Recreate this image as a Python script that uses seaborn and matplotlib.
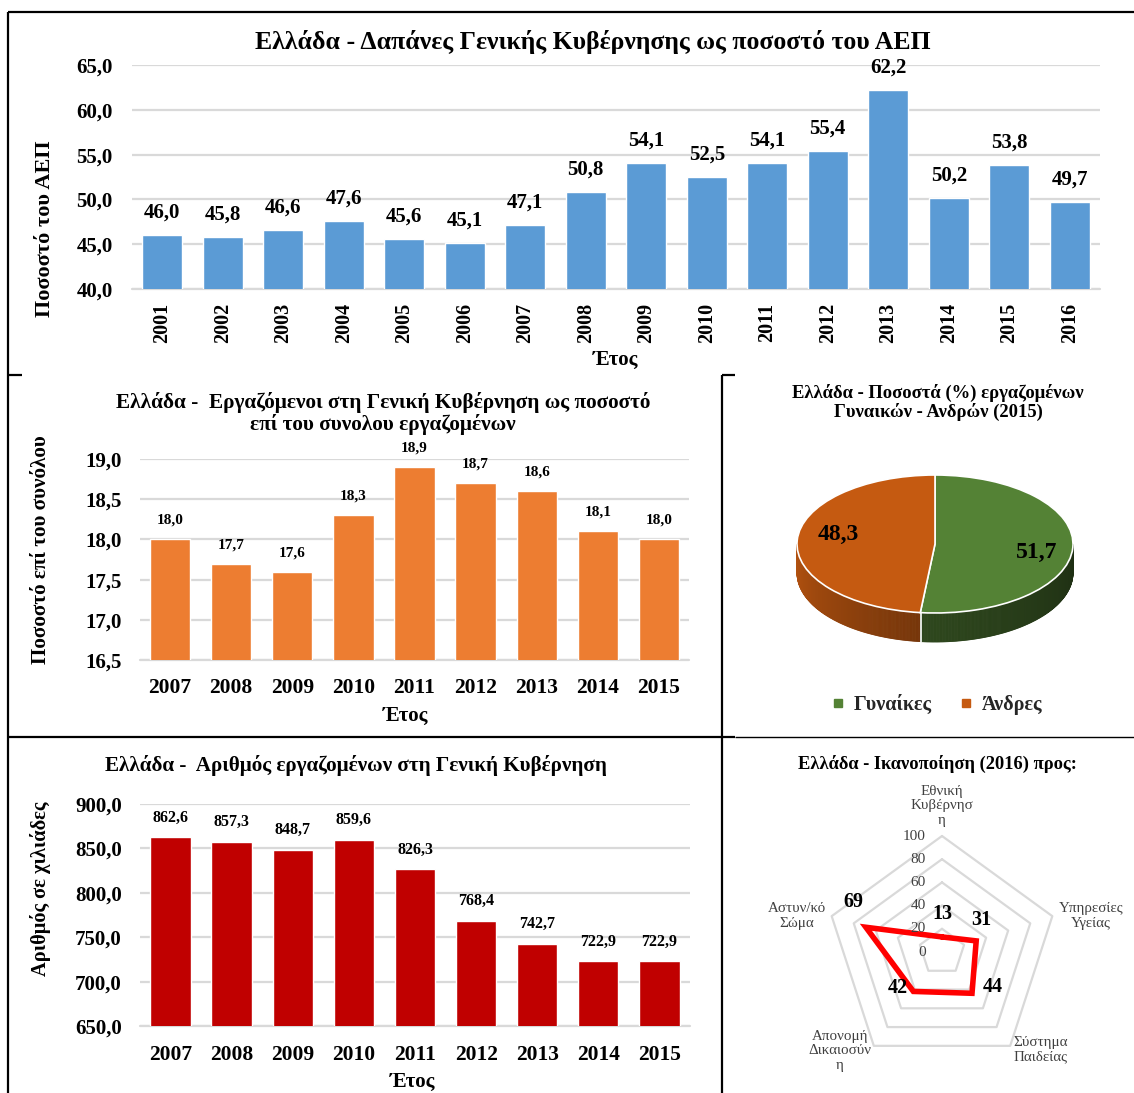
import numpy as np
import pandas as pd
import matplotlib
matplotlib.use("Agg")
import matplotlib.pyplot as plt
from matplotlib.lines import Line2D
from matplotlib.ticker import FuncFormatter, MultipleLocator
import seaborn as sns

# ---------------- data ----------------
years_exp = ["2001", "2002", "2003", "2004", "2005", "2006", "2007", "2008",
             "2009", "2010", "2011", "2012", "2013", "2014", "2015", "2016"]
exp_gdp = [46.0, 45.8, 46.6, 47.6, 45.6, 45.1, 47.1, 50.8,
           54.1, 52.5, 54.1, 55.4, 62.2, 50.2, 53.8, 49.7]

years_emp = ["2007", "2008", "2009", "2010", "2011", "2012", "2013", "2014", "2015"]
emp_share = [18.0, 17.7, 17.6, 18.3, 18.9, 18.7, 18.6, 18.1, 18.0]
emp_count = [862.6, 857.3, 848.7, 859.6, 826.3, 768.4, 742.7, 722.9, 722.9]

gender_labels = ["Γυναίκες", "Άνδρες"]
gender_share = [51.7, 48.3]

sat_labels = ["Εθνική\nΚυβέρνησ\nη", "Υπηρεσίες\nΥγείας", "Σύστημα\nΠαιδείας",
              "Απονομή\nΔικαιοσύν\nη", "Αστυν/κό\nΣώμα"]
sat_values = [13, 31, 44, 42, 69]
ring_levels = [0, 20, 40, 60, 80, 100]

# ---------------- style ----------------
sns.set_theme(style="white")
plt.rcParams["font.family"] = ["Liberation Serif", "DejaVu Serif"]
plt.rcParams["axes.unicode_minus"] = False

W, H = 1134, 1093
fig = plt.figure(figsize=(W / 100, H / 100), dpi=100)
fig.patch.set_facecolor("white")


def px(x):
    return x / W


def py(y):
    return 1 - y / H


def rect(x0, y0, x1, y1):
    # pixel box (top-left origin) -> figure fraction rect
    return [px(x0), py(y1), (x1 - x0) / W, (y1 - y0) / H]


def gr(v, nd=1):
    return f"{v:.{nd}f}".replace(".", ",")


GRID = "#D9D9D9"


def bar_panel(ax, cats, vals, color, ylim, step, lab_size, lab_pad):
    df = pd.DataFrame({"cat": cats, "val": vals})
    sns.barplot(data=df, x="cat", y="val", color=color, saturation=1,
                width=0.66, errorbar=None, ax=ax, zorder=2)
    ax.set_ylim(*ylim)
    ax.set_xlim(-0.5, len(cats) - 0.5)
    ax.yaxis.set_major_locator(MultipleLocator(step))
    ax.yaxis.set_major_formatter(FuncFormatter(lambda v, p: gr(v)))
    ax.yaxis.grid(True, color=GRID, linewidth=1.6, zorder=0)
    ax.xaxis.grid(False)
    ax.set_axisbelow(True)
    ax.axhline(ylim[0], color=GRID, linewidth=1.6, clip_on=False, zorder=1)
    for s in ax.spines.values():
        s.set_visible(False)
    ax.bar_label(ax.containers[0], labels=[gr(v) for v in vals],
                 padding=lab_pad, fontsize=lab_size, fontweight="bold", color="black")
    ax.set_xlabel("")
    ax.set_ylabel("")
    for t in ax.get_xticklabels() + ax.get_yticklabels():
        t.set_fontweight("bold")
        t.set_color("black")


# ---------------- top: expenditure as % of GDP ----------------
ax1 = fig.add_axes(rect(132, 65, 1100, 289))
bar_panel(ax1, years_exp, exp_gdp, "#5B9BD5", (40, 65), 5, 15, 9)
ax1.tick_params(axis="x", rotation=90, length=0, pad=10, labelsize=14.5)
ax1.tick_params(axis="y", length=0, pad=14, labelsize=15)
ax1.set_ylabel("Ποσοστό του ΑΕΠ", fontsize=16, fontweight="bold", color="black")
ax1.yaxis.set_label_coords(-0.0795, 0.27)
ax1.set_xlabel("Έτος", fontsize=15, fontweight="bold", color="black")
ax1.xaxis.set_label_coords(0.5, -0.27)
fig.text(px(593), py(42), "Ελλάδα - Δαπάνες Γενικής Κυβέρνησης ως ποσοστό του ΑΕΠ",
         ha="center", va="center", fontsize=18.5, fontweight="bold", color="black")

# ---------------- middle left: employees share ----------------
ax2 = fig.add_axes(rect(139.5, 459, 689.5, 660))
bar_panel(ax2, years_emp, emp_share, "#ED7D31", (16.5, 19.0), 0.5, 11, 9)
ax2.tick_params(axis="x", length=0, pad=13, labelsize=15.5)
ax2.tick_params(axis="y", length=0, pad=12.5, labelsize=15)
ax2.set_ylabel("Ποσοστό επί του συνόλου", fontsize=15.2, fontweight="bold", color="black")
ax2.yaxis.set_label_coords(-0.161, 0.55)
ax2.set_xlabel("Έτος", fontsize=15, fontweight="bold", color="black")
ax2.xaxis.set_label_coords(0.483, -0.229)
fig.text(px(383), py(413.5),
         "Ελλάδα -  Εργαζόμενοι στη Γενική Κυβέρνηση ως ποσοστό\nεπί του συνολου εργαζομένων",
         ha="center", va="center", fontsize=15.3, fontweight="bold", color="black",
         linespacing=1.05)

# ---------------- bottom left: employees count ----------------
ax4 = fig.add_axes(rect(140, 804, 690, 1026))
bar_panel(ax4, years_emp, emp_count, "#C00000", (650, 900), 50, 11.5, 8.5)
ax4.tick_params(axis="x", length=0, pad=13.5, labelsize=15.5)
ax4.tick_params(axis="y", length=0, pad=13, labelsize=15)
ax4.set_ylabel("Αριθμός σε χιλιάδες", fontsize=14.7, fontweight="bold", color="black")
ax4.yaxis.set_label_coords(-0.162, 0.62)
ax4.set_xlabel("Έτος", fontsize=15, fontweight="bold", color="black")
ax4.xaxis.set_label_coords(0.496, -0.207)
fig.text(px(356), py(765), "Ελλάδα -  Αριθμός εργαζομένων στη Γενική Κυβέρνηση",
         ha="center", va="center", fontsize=15.2, fontweight="bold", color="black")

# ---------------- middle right: 3D-look pie ----------------
pie_colors = ["#548235", "#C55A11"]
side_shade = [(0.55, 0.36), (0.92, 0.60)]  # front-rim darkening per slice
axp = fig.add_axes(rect(755.6, 454.3, 1114.4, 682))
wedges, _, autotexts = axp.pie(
    gender_share, colors=pie_colors, startangle=90, counterclock=False,
    wedgeprops=dict(edgecolor="white", linewidth=1.2),
    autopct=lambda p: gr(p), pctdistance=0.74,
    textprops=dict(fontsize=17, fontweight="bold", color="black"))
axp.set_aspect("auto")
axp.set_xlim(-1.3, 1.3)
axp.set_ylim(-2.0, 1.3)
axp.axis("off")
depth = 0.42
rim = np.linspace(180, 360, 361)


def slice_of(angle):
    for i, w in enumerate(wedges):
        span = (w.theta2 - w.theta1) % 360 or 360
        if (angle - w.theta1) % 360 <= span:
            return i
    return 0


# split rim into per-slice runs, then shade each run from light to dark
runs = []
for a0, a1 in zip(rim[:-1], rim[1:]):
    i = slice_of(0.5 * (a0 + a1))
    if runs and runs[-1][0] == i:
        runs[-1][1].append(a1)
    else:
        runs.append([i, [a0, a1]])
for i, angs in runs:
    angs = np.array(angs)
    base = np.array(matplotlib.colors.to_rgb(pie_colors[i]))
    f0, f1 = side_shade[i]
    for k in range(len(angs) - 1):
        t0, t1 = np.radians(angs[k]), np.radians(angs[k + 1])
        frac = (k + 0.5) / (len(angs) - 1)
        col = np.clip(base * (f0 + (f1 - f0) * frac), 0, 1)
        xs = [np.cos(t0), np.cos(t1), np.cos(t1), np.cos(t0)]
        ys = [np.sin(t0), np.sin(t1), np.sin(t1) - depth, np.sin(t0) - depth]
        axp.fill(xs, ys, color=col, lw=0.6, ec=col, zorder=0.5)
# white seam where the slices meet on the front rim
for i, angs in runs[1:]:
    t = np.radians(angs[0])
    axp.plot([np.cos(t), np.cos(t)], [np.sin(t), np.sin(t) - depth],
             color="white", lw=1.2, zorder=0.6)
autotexts[0].set_position((autotexts[0].get_position()[0] + 0.0,
                           autotexts[0].get_position()[1] - 0.08))
autotexts[1].set_position((autotexts[1].get_position()[0] + 0.04,
                           autotexts[1].get_position()[1] + 0.1))
handles = [Line2D([], [], marker="s", linestyle="", color=c, markersize=5.5) for c in pie_colors]
axp.legend(handles, gender_labels, loc="center", bbox_to_anchor=(0.5, -0.10), ncol=2,
           frameon=False, prop=dict(size=14.5, weight="bold"), handletextpad=0.3,
           columnspacing=1.2, handlelength=1.0)
fig.text(px(938), py(402.5), "Ελλάδα - Ποσοστά (%) εργαζομένων\nΓυναικών - Ανδρών (2015)",
         ha="center", va="center", fontsize=13.4, fontweight="bold", color="black",
         linespacing=1.0)

# ---------------- bottom right: radar ----------------
axr = fig.add_axes(rect(826, 836, 1058, 1068))
axr.set_xlim(-100, 100)
axr.set_ylim(-100, 100)
axr.set_aspect("equal")
axr.axis("off")
n = len(sat_values)
theta = 2 * np.pi * np.arange(n) / n
tc = np.append(theta, theta[0])
for lev in ring_levels[1:]:
    axr.plot(lev * np.sin(tc), lev * np.cos(tc), color=GRID, lw=1.6, zorder=1, clip_on=False)
vals_c = np.append(sat_values, sat_values[0])
axr.plot(vals_c * np.sin(tc), vals_c * np.cos(tc), color="#FF0000", lw=4,
         solid_joinstyle="miter", zorder=3, clip_on=False)
for lev in ring_levels:
    axr.annotate(str(lev), xy=(0, lev), xytext=(-16, 0), textcoords="offset pixels",
                 ha="right", va="center", fontsize=11, color="#404040",
                 annotation_clip=False, zorder=4)
val_offsets = [(0, 23), (5, 21), (21, 6), (-16, 3), (-13, 25)]
for v, t, off in zip(sat_values, theta, val_offsets):
    axr.annotate(str(v), xy=(v * np.sin(t), v * np.cos(t)), xytext=off,
                 textcoords="offset pixels", ha="center", va="center", fontsize=14.5,
                 fontweight="bold", color="black", annotation_clip=False, zorder=5)
lab_place = [((0, 9), "center", "bottom"), ((6, 0), "left", "center"),
             ((3, -4), "left", "center"), ((-34, -5), "center", "center"),
             ((-6, 0), "right", "center")]
for lab, t, (off, ha, va) in zip(sat_labels, theta, lab_place):
    axr.annotate(lab, xy=(100 * np.sin(t), 100 * np.cos(t)), xytext=off,
                 textcoords="offset pixels", ha=ha, va=va, fontsize=10.8,
                 color="#404040", multialignment="center", linespacing=1.15,
                 annotation_clip=False)
fig.text(px(937), py(764), "Ελλάδα - Ικανοποίηση (2016) προς:", ha="center", va="center",
         fontsize=13.3, fontweight="bold", color="black")

# ---------------- panel frame ----------------
def frame_line(xs, ys, lw=1.6):
    fig.add_artist(Line2D([px(x) for x in xs], [py(y) for y in ys], color="black",
                          lw=lw, transform=fig.transFigure, solid_capstyle="butt"))


frame_line([8, 1134], [12, 12])
frame_line([8, 8], [12, 1093])
frame_line([8, 22], [375, 375])
frame_line([722, 735], [375, 375])
frame_line([722, 722], [375, 1093])
frame_line([8, 735], [737, 737])
frame_line([735, 1134], [736.5, 736.5], lw=1.0)

fig.savefig("out.png", dpi=100, facecolor="white")
